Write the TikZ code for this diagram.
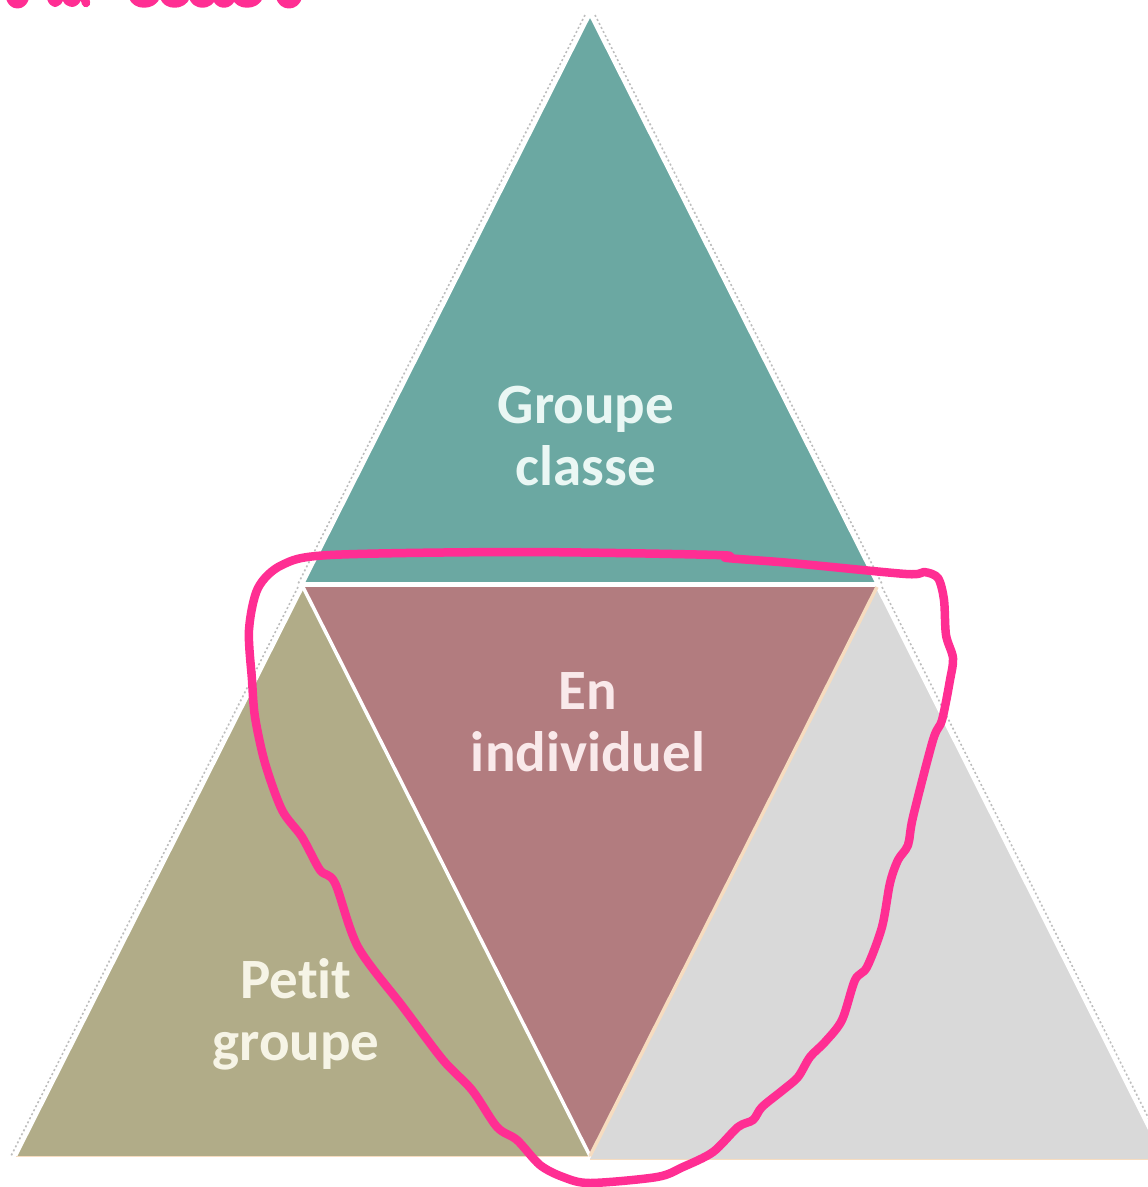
\documentclass[tikz,border=0pt]{standalone}
\usepackage{fontspec}
\setmainfont{Carlito}[Ligatures=NoCommon]
\definecolor{tealc}{HTML}{6BA8A2}
\definecolor{olivec}{HTML}{B1AC88}
\definecolor{mauvec}{HTML}{B27C7F}
\definecolor{greyc}{HTML}{D9D9D9}
\definecolor{penc}{HTML}{FF2E93}
\definecolor{dotc}{HTML}{BDBDBD}
\definecolor{creamc}{HTML}{F6DCC0}
\definecolor{tealtxt}{HTML}{EAF7F4}
\definecolor{mauvetxt}{HTML}{F9E9EA}
\definecolor{olivetxt}{HTML}{F6F4E6}
\begin{document}
\begin{tikzpicture}[x=1pt,y=-1pt,
  lbl/.style={font=\fontsize{57}{62}\selectfont\bfseries, align=center, inner sep=0pt},
  outline/.style={draw=dotc, line width=1.6pt, dash pattern=on 2pt off 2.5pt},
  pen/.style={draw=penc, line width=8.5pt, line cap=round, line join=round}]
\useasboundingbox (0,0) rectangle (1148,1187);
\clip (0,0) rectangle (1148,1187);

% corner points
\coordinate (A) at (590,15);
\coordinate (B) at (303,584);
\coordinate (C) at (877,584);
\coordinate (D) at (303,587);
\coordinate (E) at (877,587);
\coordinate (F) at (16,1156);
\coordinate (G) at (590,1156);
\coordinate (H) at (590,1159);
\coordinate (K) at (1164,1159);

% dotted outer outline
\draw[outline] ([xshift=-5pt]A) -- ([xshift=-5pt]B);
\draw[outline] ([xshift=5pt]A) -- ([xshift=5pt]C);
\draw[outline] ([xshift=-5pt]D) -- ([xshift=-5pt]F);
\draw[outline] ([xshift=5pt]E) -- ([xshift=5pt]K);

% triangles
\fill[greyc] (E) -- (K) -- (H) -- cycle;
\draw[white, line width=2.5pt] (E) -- (K);
\draw[creamc, line width=1pt] (H) -- (K);
\fill[olivec] (D) -- (G) -- (F) -- cycle;
\draw[white, line width=2.5pt] (D) -- (F);
\draw[creamc, line width=1pt] (F) -- (G);
\fill[mauvec] (D) -- (E) -- (G) -- cycle;
\fill[tealc] (A) -- (C) -- (B) -- cycle;
\draw[white, line width=2.5pt] (B) -- (A) -- (C);
% separators
\draw[white, line width=4pt] (B) -- (C);
\draw[white, line width=3.5pt] (D) -- (G);
\draw[creamc, line width=3.5pt] (E) -- (G);

% labels
\node[lbl, text=tealtxt] (groupe) at (586,436) {Groupe\\classe};
\node[lbl, text=mauvetxt] (indiv) at (588,722) {En\\individuel};
\node[lbl, text=olivetxt] (petit) at (296,1014) {Petit\\groupe};

% hand-drawn loop
\draw[pen] plot[smooth cycle, tension=0.5] coordinates {
 (258,588) (282,565) (330,555) (520,552) (717,555) (727,558) (791,563)
 (906,574) (924,572) (938,578) (944,600) (946,635) (953,658) (950,680)
 (942,720) (933,740) (913,817) (908,845) (898,860) (890,883) (882,927)
 (867,967) (855,980) (842,1020) (825,1042) (810,1057) (798,1077) (783,1090)
 (762,1107) (753,1120) (738,1127) (713,1152) (683,1167) (657,1177) (590,1183)
 (563,1177) (540,1165) (517,1140) (497,1127) (472,1090) (443,1060) (403,1007)
 (358,947) (335,883) (320,870) (302,837) (282,810) (265,763) (255,717)
 (252,680) (249,630)};

% cut-off handwriting at the top edge
\draw[pen] (10,-4) .. controls (11,7) and (24,7) .. (25,-4);
\draw[pen] (51,-4) .. controls (52,5) and (58,5) .. (60,-4);
\draw[pen] (66,-4) .. controls (67,5) and (76,5) .. (78,-4);
\draw[pen] (84,-4) -- (86,3);
\draw[pen] (133,-4) .. controls (135,6) and (153,6) .. (156,-4);
\draw[pen] (164,-4) .. controls (166,6) and (183,6) .. (186,-4);
\draw[pen] (193,-4) .. controls (195,6) and (210,6) .. (212,-4);
\draw[pen] (216,-4) .. controls (218,6) and (230,6) .. (232,-4);
\draw[pen] (236,-4) .. controls (238,6) and (256,6) .. (259,-4);
\draw[pen] (280,-4) .. controls (282,7) and (296,7) .. (298,-4);
\end{tikzpicture}
\end{document}
